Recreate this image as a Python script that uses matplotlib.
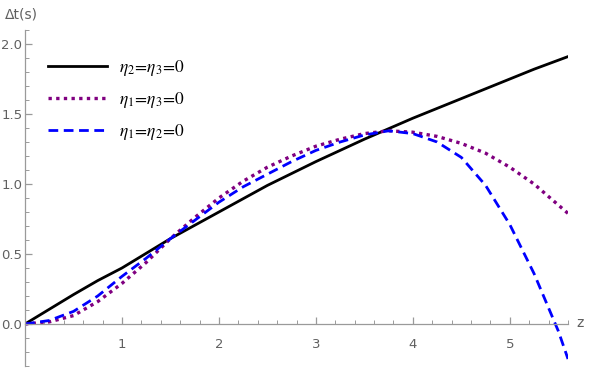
import numpy as np
import matplotlib
matplotlib.use("Agg")
import matplotlib.pyplot as plt
from matplotlib.ticker import MultipleLocator, FixedLocator

# values
z_black = [0, 0.25, 0.5, 0.75, 1, 1.25, 1.5, 1.75, 2, 2.25, 2.5, 2.75, 3, 3.25,
           3.5, 3.75, 4, 4.25, 4.5, 4.75, 5, 5.25, 5.6]
dt_black = [0, 0.105, 0.21, 0.31, 0.40, 0.505, 0.61, 0.705, 0.80, 0.895, 0.99,
            1.075, 1.16, 1.24, 1.32, 1.395, 1.47, 1.54, 1.61, 1.68, 1.75, 1.82, 1.91]

z_purple = [0, 0.25, 0.5, 0.75, 1, 1.25, 1.5, 1.75, 2, 2.25, 2.5, 2.75, 3, 3.25,
            3.5, 3.75, 4, 4.25, 4.5, 4.75, 5, 5.25, 5.5, 5.6]
dt_purple = [0, 0.015, 0.06, 0.16, 0.29, 0.44, 0.61, 0.76, 0.90, 1.02, 1.12, 1.20,
             1.27, 1.32, 1.36, 1.38, 1.37, 1.34, 1.29, 1.22, 1.12, 1.00, 0.85, 0.79]

z_blue = [0, 0.25, 0.5, 0.75, 1, 1.25, 1.5, 1.75, 2, 2.25, 2.5, 2.75, 3, 3.25,
          3.5, 3.75, 4, 4.25, 4.5, 4.75, 5, 5.25, 5.5, 5.6]
dt_blue = [0, 0.025, 0.09, 0.20, 0.34, 0.47, 0.61, 0.74, 0.87, 0.98, 1.07, 1.16,
           1.24, 1.30, 1.35, 1.38, 1.36, 1.30, 1.19, 0.99, 0.71, 0.36, -0.05, -0.25]

labels = [r"$\eta_2\!=\!\eta_3\!=\!0$", r"$\eta_1\!=\!\eta_3\!=\!0$", r"$\eta_1\!=\!\eta_2\!=\!0$"]

plt.rcParams["mathtext.fontset"] = "stix"
axis_grey = "#9a9a9a"
text_grey = "#606060"

W, H = 590, 369
fig = plt.figure(figsize=(W / 100, H / 100), dpi=100)
# x: 0 -> px 25, 5.6 -> px 568 ; y: -0.3 -> px 366, 2.1 -> px 30
ax = fig.add_axes([25 / W, (H - 366) / H, (568 - 25) / W, (366 - 30) / H])
ax.set_xlim(0, 5.6)
ax.set_ylim(-0.3, 2.1)

ax.plot(z_black, dt_black, color="black", lw=2.0, label=labels[0])
ax.plot(z_purple, dt_purple, color="#800080", lw=2.4, ls=(0, (1, 1.3)), label=labels[1])
ax.plot(z_blue, dt_blue, color="#0000ff", lw=2.0, ls=(0, (3.5, 2)), label=labels[2])

for s in ["top", "right"]:
    ax.spines[s].set_visible(False)
ax.spines["left"].set_position(("data", 0))
ax.spines["bottom"].set_position(("data", 0))
for s in ["left", "bottom"]:
    ax.spines[s].set_color(axis_grey)
    ax.spines[s].set_linewidth(0.9)

ax.xaxis.set_major_locator(FixedLocator([1, 2, 3, 4, 5]))
ax.xaxis.set_minor_locator(MultipleLocator(0.2))
ax.yaxis.set_major_locator(FixedLocator([0, 0.5, 1.0, 1.5, 2.0]))
ax.yaxis.set_minor_locator(MultipleLocator(0.1))
ax.set_yticklabels(["0.0", "0.5", "1.0", "1.5", "2.0"])
ax.tick_params(which="major", direction="in", length=5, width=0.9, color=axis_grey,
               labelcolor=text_grey, labelsize=9.5)
ax.tick_params(which="minor", direction="in", length=3, width=0.7, color=axis_grey)
ax.tick_params(axis="x", pad=10)
ax.tick_params(axis="y", pad=2)

fig.text(5 / W, 1 - 14 / H, "Δt(s)", color=text_grey, fontsize=10, va="center", ha="left")
fig.text(576 / W, 1 - 323 / H, "z", color=text_grey, fontsize=10, va="center", ha="left")

ax.legend(loc="upper left", bbox_to_anchor=(0.014, 0.963), frameon=False, fontsize=12.5,
          handlelength=3.4, handletextpad=0.65, labelspacing=0.7)

fig.savefig("out.png", dpi=100)
